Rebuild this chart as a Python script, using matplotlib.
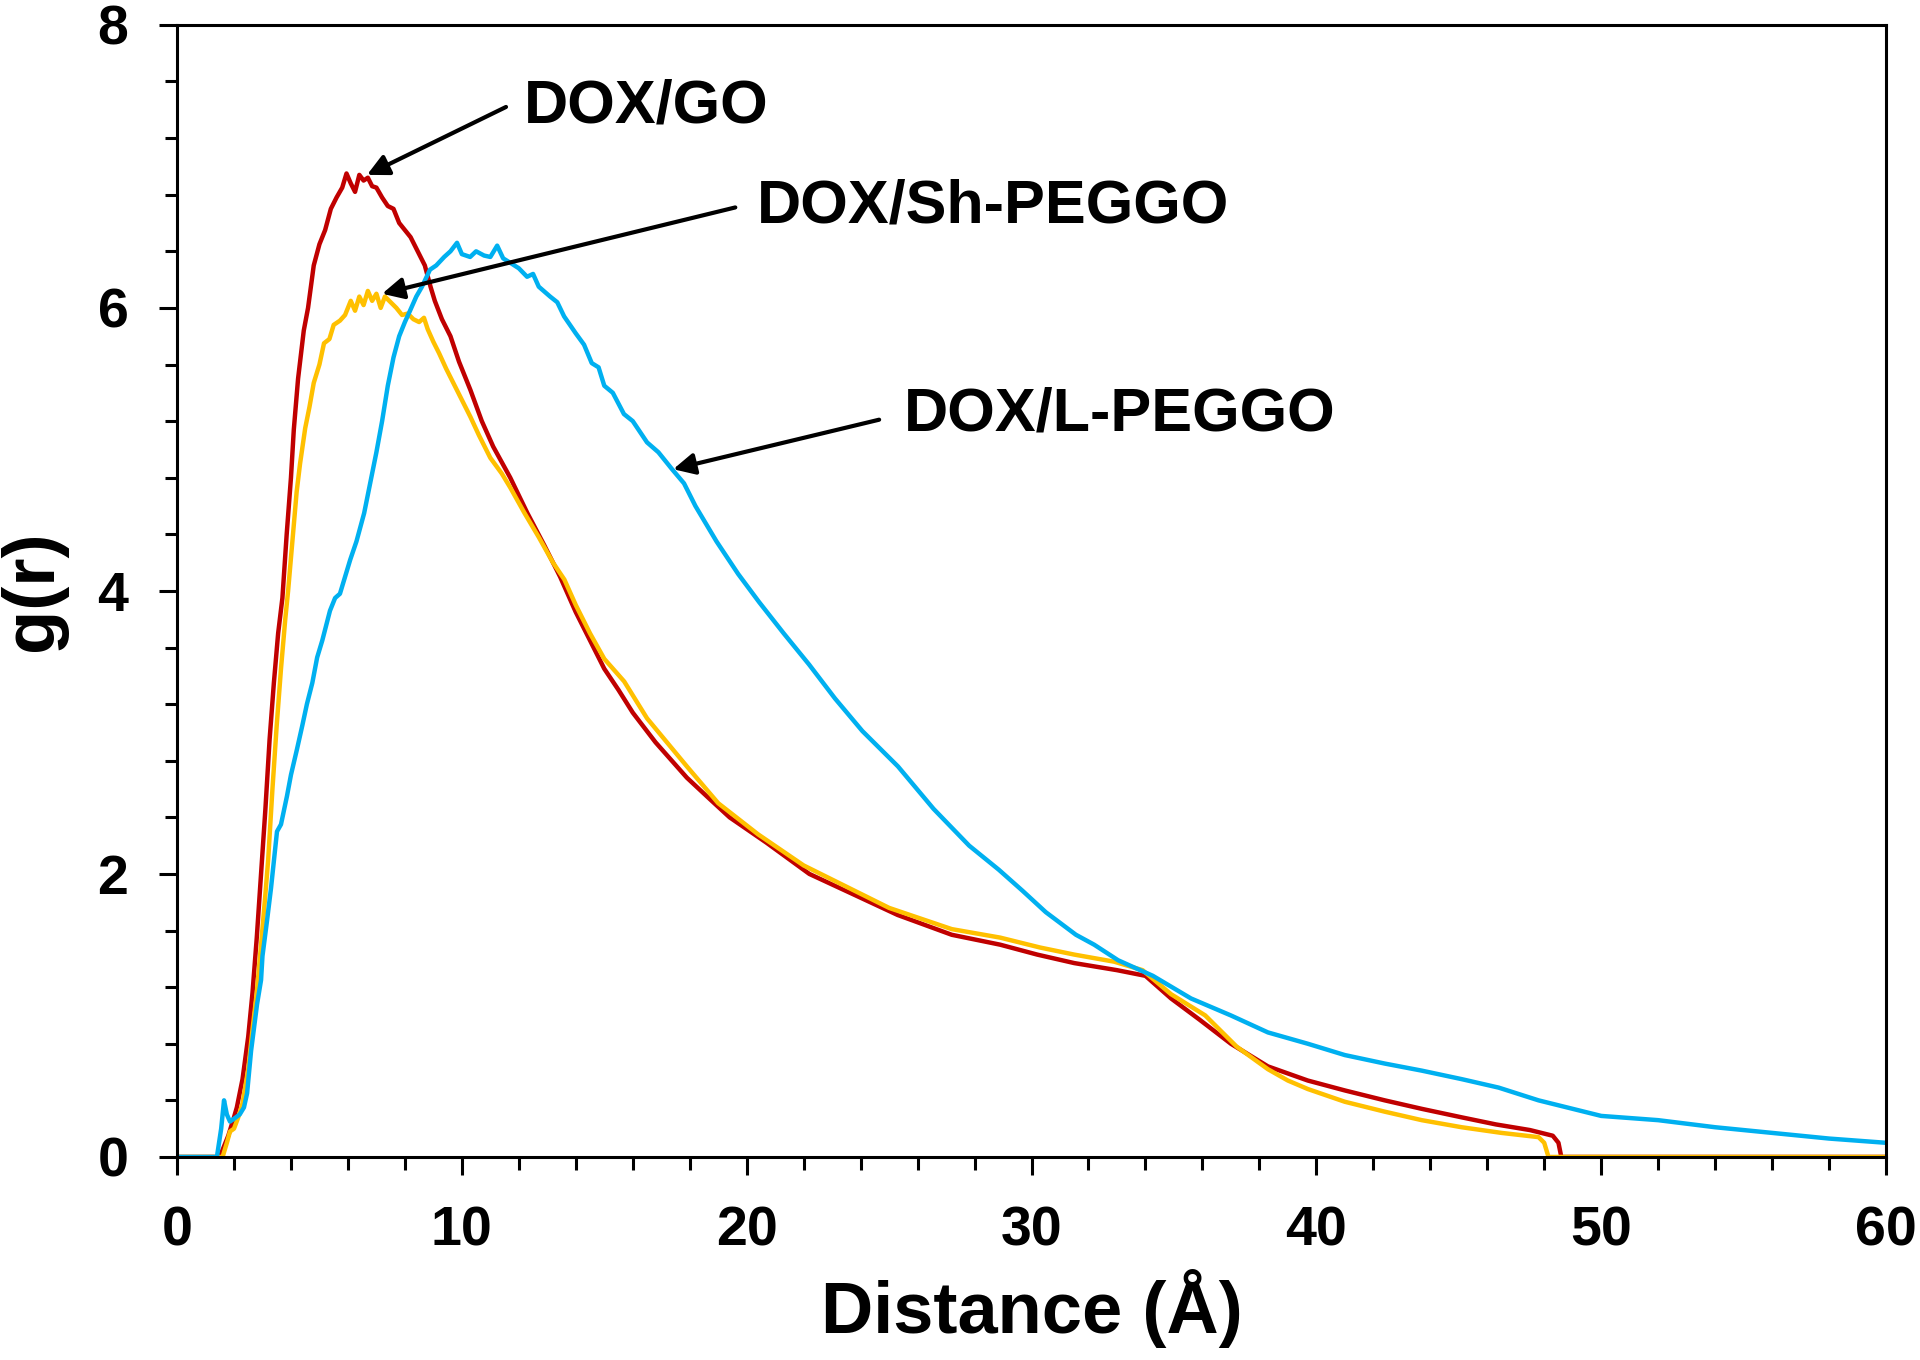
import matplotlib
matplotlib.use("Agg")
import matplotlib.pyplot as plt
from matplotlib.ticker import MultipleLocator

plt.rcParams['font.family'] = ['Liberation Sans', 'DejaVu Sans']
plt.rcParams['font.weight'] = 'bold'

# DOX/GO
go_x = [0, 1.5, 1.6, 1.8, 2.0, 2.1, 2.3, 2.5, 2.65, 2.8, 2.95, 3.1, 3.25, 3.4, 3.55,
        3.7, 3.85, 4.0, 4.1, 4.25, 4.45, 4.6, 4.8, 5.0, 5.2, 5.4, 5.6, 5.8, 5.95,
        6.1, 6.25, 6.4, 6.55, 6.7, 6.85, 7.0, 7.2, 7.4, 7.6, 7.8, 8.0, 8.2, 8.45,
        8.7, 8.9, 9.05, 9.3, 9.6, 9.9, 10.3, 10.7, 11.1, 11.7, 12.3, 12.9, 13.45,
        14.0, 14.5, 15.0, 15.5, 16.0, 16.8, 17.9, 18.7, 19.4, 20.7, 22.2, 23.7,
        25.3, 27.2, 28.9, 30.2, 31.5, 33.0, 34.0, 34.9, 35.9, 37.0, 38.3, 39.7,
        41.0, 42.4, 43.7, 45.1, 46.3, 47.5, 48.3, 48.5, 48.6, 60]
go_y = [0, 0, 0.05, 0.15, 0.28, 0.35, 0.55, 0.85, 1.16, 1.55, 2.0, 2.45, 2.95, 3.35, 3.7,
        3.95, 4.4, 4.8, 5.14, 5.5, 5.84, 6.0, 6.3, 6.45, 6.55, 6.7, 6.78, 6.85, 6.95,
        6.88, 6.82, 6.94, 6.9, 6.92, 6.86, 6.85, 6.78, 6.72, 6.7, 6.6, 6.55, 6.5, 6.4,
        6.3, 6.15, 6.05, 5.92, 5.8, 5.62, 5.42, 5.2, 5.02, 4.8, 4.55, 4.32, 4.1,
        3.85, 3.65, 3.45, 3.3, 3.14, 2.93, 2.68, 2.53, 2.40, 2.22, 2.0, 1.86,
        1.71, 1.57, 1.5, 1.43, 1.37, 1.32, 1.28, 1.12, 0.97, 0.80, 0.64, 0.54,
        0.47, 0.40, 0.34, 0.28, 0.23, 0.19, 0.15, 0.10, 0.0, 0]

# DOX/Sh-PEGGO
sh_x = [0, 1.6, 1.75, 1.86, 2.0, 2.15, 2.3, 2.5, 2.65, 2.8, 2.95, 3.1, 3.2, 3.35, 3.5,
        3.65, 3.8, 3.9, 4.05, 4.2, 4.32, 4.5, 4.65, 4.8, 5.0, 5.16, 5.35, 5.5, 5.72,
        5.9, 6.1, 6.25, 6.4, 6.55, 6.7, 6.85, 7.0, 7.15, 7.3, 7.5, 7.7, 7.9, 8.1,
        8.3, 8.5, 8.67, 8.8, 9.0, 9.2, 9.45, 9.75, 10.0, 10.3, 10.6, 11.0, 11.4,
        11.7, 12.2, 12.7, 13.2, 13.6, 14.0, 14.5, 15.0, 15.7, 16.5, 17.9, 19.0,
        20.4, 22.0, 23.4, 25.0, 27.2, 28.9, 30.3, 31.5, 32.9, 33.9, 34.9, 36.1,
        37.2, 38.3, 39.0, 39.7, 41.0, 42.4, 43.7, 45.1, 46.5, 47.8, 48.0, 48.15, 60]
sh_y = [0, 0, 0.1, 0.18, 0.2, 0.28, 0.38, 0.62, 0.9, 1.16, 1.5, 1.85, 2.1, 2.6, 3.05,
        3.45, 3.8, 4.0, 4.35, 4.7, 4.9, 5.15, 5.3, 5.47, 5.6, 5.75, 5.78, 5.88, 5.91,
        5.95, 6.05, 5.98, 6.08, 6.02, 6.12, 6.05, 6.1, 6.0, 6.08, 6.04, 6.0, 5.95, 5.96,
        5.92, 5.9, 5.93, 5.85, 5.76, 5.68, 5.57, 5.45, 5.35, 5.23, 5.1, 4.94, 4.83,
        4.73, 4.55, 4.38, 4.2, 4.08, 3.9, 3.7, 3.52, 3.36, 3.1, 2.76, 2.5,
        2.28, 2.06, 1.92, 1.76, 1.61, 1.55, 1.48, 1.43, 1.38, 1.32, 1.15, 1.0,
        0.78, 0.62, 0.54, 0.48, 0.39, 0.32, 0.26, 0.21, 0.17, 0.14, 0.10, 0.0, 0]

# DOX/L-PEGGO
l_x = [0, 1.4, 1.55, 1.65, 1.75, 1.86, 2.0, 2.2, 2.35, 2.46, 2.6, 2.81, 2.95, 3.0,
       3.16, 3.3, 3.51, 3.65, 3.86, 4.0, 4.21, 4.4, 4.56, 4.75, 4.92, 5.1, 5.37,
       5.55, 5.72, 5.9, 6.08, 6.3, 6.57, 6.8, 7.0, 7.2, 7.4, 7.6, 7.8, 8.0, 8.18,
       8.4, 8.6, 8.88, 9.1, 9.38, 9.6, 9.83, 10.0, 10.29, 10.5, 10.78, 11.0, 11.24,
       11.45, 11.69, 12.0, 12.29, 12.5, 12.7, 13.1, 13.35, 13.59, 14.0, 14.29,
       14.56, 14.8, 15.0, 15.3, 15.69, 16.0, 16.5, 16.9, 17.38, 17.8, 18.2, 18.94,
       19.7, 20.44, 21.3, 22.19, 23.1, 24.06, 25.31, 26.56, 27.81, 28.85, 29.69,
       30.5, 31.56, 32.2, 33.04, 34.26, 35.6, 37.0, 38.3, 39.7, 41.0, 42.4, 43.7,
       45.1, 46.4, 47.8, 50.0, 52.0, 54.0, 56.0, 58.0, 60.0]
l_y = [0, 0, 0.2, 0.40, 0.3, 0.25, 0.27, 0.30, 0.35, 0.45, 0.75, 1.08, 1.25, 1.42,
       1.67, 1.9, 2.3, 2.35, 2.55, 2.7, 2.88, 3.05, 3.2, 3.35, 3.53, 3.65, 3.86,
       3.95, 3.98, 4.1, 4.22, 4.35, 4.55, 4.78, 4.98, 5.2, 5.45, 5.65, 5.8, 5.9, 5.98,
       6.08, 6.15, 6.27, 6.3, 6.36, 6.4, 6.46, 6.38, 6.36, 6.4, 6.37, 6.36, 6.44,
       6.35, 6.32, 6.28, 6.22, 6.24, 6.15, 6.08, 6.04, 5.94, 5.82, 5.74,
       5.61, 5.58, 5.45, 5.4, 5.25, 5.2, 5.05, 4.98, 4.86, 4.76, 4.6, 4.35,
       4.12, 3.92, 3.7, 3.48, 3.24, 3.01, 2.76, 2.46, 2.2, 2.03, 1.88,
       1.73, 1.57, 1.5, 1.39, 1.28, 1.12, 1.0, 0.88, 0.80, 0.72, 0.66, 0.61,
       0.55, 0.49, 0.40, 0.29, 0.26, 0.21, 0.17, 0.13, 0.10]

fig = plt.figure(figsize=(19.2, 13.6), dpi=100)
ax = fig.add_axes([0.0922, 0.1493, 0.8901, 0.8324])

ax.plot(go_x, go_y, color='#C00000', lw=3.2)
ax.plot(sh_x, sh_y, color='#FFC000', lw=3.2)
ax.plot(l_x, l_y, color='#00B0F0', lw=3.2)

ax.set_xlim(0, 60)
ax.set_ylim(0, 8)
ax.xaxis.set_major_locator(MultipleLocator(10))
ax.xaxis.set_minor_locator(MultipleLocator(2))
ax.yaxis.set_major_locator(MultipleLocator(2))
ax.yaxis.set_minor_locator(MultipleLocator(0.4))
ax.tick_params(which='major', direction='out', length=13, width=2.2, labelsize=40, pad=22)
ax.tick_params(which='minor', direction='out', length=9, width=2.2)
for s in ax.spines.values():
    s.set_linewidth(2.2)

ax.set_xlabel('Distance (Å)', fontsize=52, fontweight='bold', labelpad=8)
ax.set_ylabel('g(r)', fontsize=52, fontweight='bold', labelpad=22)

arrow = dict(arrowstyle='-|>', color='black', lw=3, mutation_scale=32, shrinkA=0, shrinkB=0)
ax.annotate('', xy=(6.67, 6.94), xytext=(11.55, 7.42), arrowprops=arrow)
ax.text(12.18, 7.42, 'DOX/GO', fontsize=44, fontweight='bold', va='center', ha='left')
ax.annotate('', xy=(7.2, 6.10), xytext=(19.6, 6.71), arrowprops=arrow)
ax.text(20.37, 6.71, 'DOX/Sh-PEGGO', fontsize=44, fontweight='bold', va='center', ha='left')
ax.annotate('', xy=(17.42, 4.86), xytext=(24.65, 5.21), arrowprops=arrow)
ax.text(25.53, 5.24, 'DOX/L-PEGGO', fontsize=44, fontweight='bold', va='center', ha='left')

fig.savefig('out.png', dpi=100)
